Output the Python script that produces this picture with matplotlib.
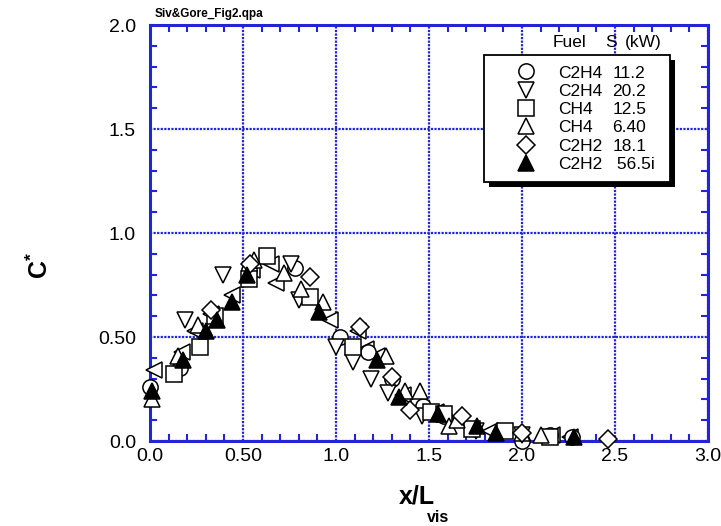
import matplotlib
matplotlib.use("Agg")
import matplotlib.pyplot as plt
from matplotlib.lines import Line2D
from matplotlib.patches import Rectangle
from matplotlib.ticker import MultipleLocator, FixedLocator, FixedFormatter

plt.rcParams["font.family"] = ["Liberation Sans", "DejaVu Sans"]
plt.rcParams["mathtext.fontset"] = "custom"
plt.rcParams["mathtext.bf"] = "Liberation Sans:bold"
plt.rcParams["mathtext.rm"] = "Liberation Sans"

BLUE = "#2323d8"

# C2H4 11.2 kW  (open circles)
c2h4_a_x = [0.00, 0.16, 0.53, 0.78, 1.02, 1.17, 1.30, 1.47, 1.58, 2.00, 2.15, 2.27]
c2h4_a_y = [0.26, 0.35, 0.82, 0.83, 0.50, 0.43, 0.30, 0.17, 0.12, 0.00, 0.03, 0.02]

# C2H4 20.2 kW  (open down triangles)
c2h4_b_x = [0.19, 0.39, 0.76, 0.80, 1.00, 1.09, 1.19, 1.28, 1.46, 1.75, 2.00]
c2h4_b_y = [0.58, 0.80, 0.85, 0.68, 0.45, 0.38, 0.30, 0.23, 0.12, 0.05, 0.03]

# CH4 12.5 kW  (open squares)
ch4_a_x = [0.13, 0.27, 0.35, 0.53, 0.63, 0.86, 1.09, 1.51, 1.58, 1.73, 1.91, 2.15]
ch4_a_y = [0.32, 0.45, 0.60, 0.78, 0.89, 0.69, 0.45, 0.14, 0.13, 0.06, 0.05, 0.02]

# CH4 6.40 kW  (open up triangles)
ch4_b_x = [0.01, 0.15, 0.26, 0.56, 0.72, 0.81, 0.93, 1.27, 1.37, 1.45, 1.61, 1.65, 2.00, 2.10]
ch4_b_y = [0.20, 0.41, 0.56, 0.87, 0.81, 0.73, 0.67, 0.41, 0.24, 0.24, 0.07, 0.10, 0.04, 0.03]

# C2H2 18.1 kW  (open diamonds)
c2h2_a_x = [0.33, 0.54, 0.86, 1.13, 1.30, 1.40, 1.68, 2.00, 2.46]
c2h2_a_y = [0.63, 0.85, 0.79, 0.55, 0.31, 0.15, 0.12, 0.04, 0.01]

# C2H2 56.5i kW  (filled up triangles)
c2h2_b_x = [0.01, 0.18, 0.30, 0.36, 0.44, 0.52, 0.91, 1.22, 1.34, 1.55, 1.76, 1.86, 2.28]
c2h2_b_y = [0.24, 0.39, 0.53, 0.58, 0.67, 0.80, 0.62, 0.39, 0.21, 0.13, 0.07, 0.04, 0.02]

# unlabelled series (open left triangles)
extra_x = [0.02, 0.17, 0.24, 0.33, 0.44, 0.55, 0.65, 0.68, 0.97, 1.12, 1.16, 1.22, 1.36, 1.54, 1.83, 2.16, 2.26]
extra_y = [0.34, 0.43, 0.53, 0.61, 0.70, 0.82, 0.85, 0.76, 0.58, 0.53, 0.44, 0.41, 0.22, 0.14, 0.05, 0.03, 0.02]

fuels = ["C2H4", "C2H4", "CH4", "CH4", "C2H2", "C2H2"]
powers = ["11.2", "20.2", "12.5", "6.40", "18.1", " 56.5i "]

x_ticks = [0.0, 0.5, 1.0, 1.5, 2.0, 2.5, 3.0]
x_tick_labels = ["0.0", "0.50", "1.0", "1.5", "2.0", "2.5", "3.0"]
y_ticks = [0.0, 0.5, 1.0, 1.5, 2.0]
y_tick_labels = ["0.0", "0.50", "1.0", "1.5", "2.0"]

fig = plt.figure(figsize=(7.21, 5.26), dpi=100, facecolor="white")
ax = fig.add_axes([150 / 721, 85 / 526, 558 / 721, 416 / 526])

ms = 11
mew = 1.1
common = dict(linestyle="none", markeredgecolor="black", markeredgewidth=mew,
              zorder=3, clip_on=False)

ax.plot(extra_x, extra_y, marker="<", markersize=ms, markerfacecolor="white", **common)
h1, = ax.plot(c2h4_a_x, c2h4_a_y, marker="o", markersize=ms, markerfacecolor="white", **common)
h2, = ax.plot(c2h4_b_x, c2h4_b_y, marker="v", markersize=ms, markerfacecolor="white", **common)
h3, = ax.plot(ch4_a_x, ch4_a_y, marker="s", markersize=ms, markerfacecolor="white", **common)
h4, = ax.plot(ch4_b_x, ch4_b_y, marker="^", markersize=ms, markerfacecolor="white", **common)
h5, = ax.plot(c2h2_a_x, c2h2_a_y, marker="D", markersize=ms - 2, markerfacecolor="white", **common)
h6, = ax.plot(c2h2_b_x, c2h2_b_y, marker="^", markersize=ms, markerfacecolor="black", **common)

ax.set_xlim(0, 3.0)
ax.set_ylim(0, 2.0)
ax.xaxis.set_major_locator(FixedLocator(x_ticks))
ax.xaxis.set_major_formatter(FixedFormatter(x_tick_labels))
ax.yaxis.set_major_locator(FixedLocator(y_ticks))
ax.yaxis.set_major_formatter(FixedFormatter(y_tick_labels))
ax.xaxis.set_minor_locator(MultipleLocator(0.1))
ax.yaxis.set_minor_locator(MultipleLocator(0.1))

ax.tick_params(which="both", direction="in", top=True, right=True, color=BLUE,
               labelsize=14, labelcolor="black")
ax.tick_params(which="major", length=0, width=1.5)
ax.tick_params(which="minor", length=5, width=1.5)
ax.tick_params(axis="y", which="major", pad=10)
ax.tick_params(axis="x", which="major", pad=5)

ax.grid(True, which="major", color=BLUE, linestyle=(0, (1, 0.6)), linewidth=1.6, zorder=0)
ax.set_axisbelow(True)
for sp in ax.spines.values():
    sp.set_color(BLUE)
    sp.set_linewidth(2.2)

# legend: fuel column + power column
blank = [Line2D([], [], linestyle="none") for _ in powers]
leg = ax.legend(handles=[h1, h2, h3, h4, h5, h6] + blank,
                labels=fuels + powers, ncol=2,
                loc="upper left", bbox_to_anchor=(0.599, 0.928), borderaxespad=0,
                fontsize=12.5, labelspacing=0.18, handlelength=3.64, handletextpad=0.0,
                columnspacing=-3.05, borderpad=0.6, fancybox=False,
                shadow=False, framealpha=1)
leg.get_frame().set_edgecolor("black")
leg.get_frame().set_linewidth(1.3)
leg.set_zorder(5)

# solid drop shadow behind the legend box
fig.canvas.draw()
bb = leg.get_frame().get_window_extent()
ax.add_patch(Rectangle((bb.x0 + 5, bb.y0 - 5), bb.width, bb.height, transform=None,
                       facecolor="black", edgecolor="none", zorder=4.9, clip_on=False))

ax.text(0.722, 0.958, "Fuel", transform=ax.transAxes, fontsize=12.5, va="center")
ax.text(0.815, 0.958, "S", transform=ax.transAxes, fontsize=12.5, va="center")
ax.text(0.851, 0.958, "(kW)", transform=ax.transAxes, fontsize=12.5, va="center")

ax.text(0.009, 1.012, "Siv&Gore_Fig2.qpa", transform=ax.transAxes, fontsize=8.5,
        fontweight="bold", va="bottom")

fig.text(40 / 721, 1 - 265 / 526, r"$\mathbf{C^{*}}$", rotation=90, fontsize=18,
         ha="center", va="center")
fig.text(417 / 721, 1 - 497 / 526, "x/L", fontsize=18, fontweight="bold",
         ha="center", va="center")
fig.text(438 / 721, 1 - 517 / 526, "vis", fontsize=11.5, fontweight="bold",
         ha="center", va="center")

fig.savefig("out.png", dpi=100, facecolor="white")
